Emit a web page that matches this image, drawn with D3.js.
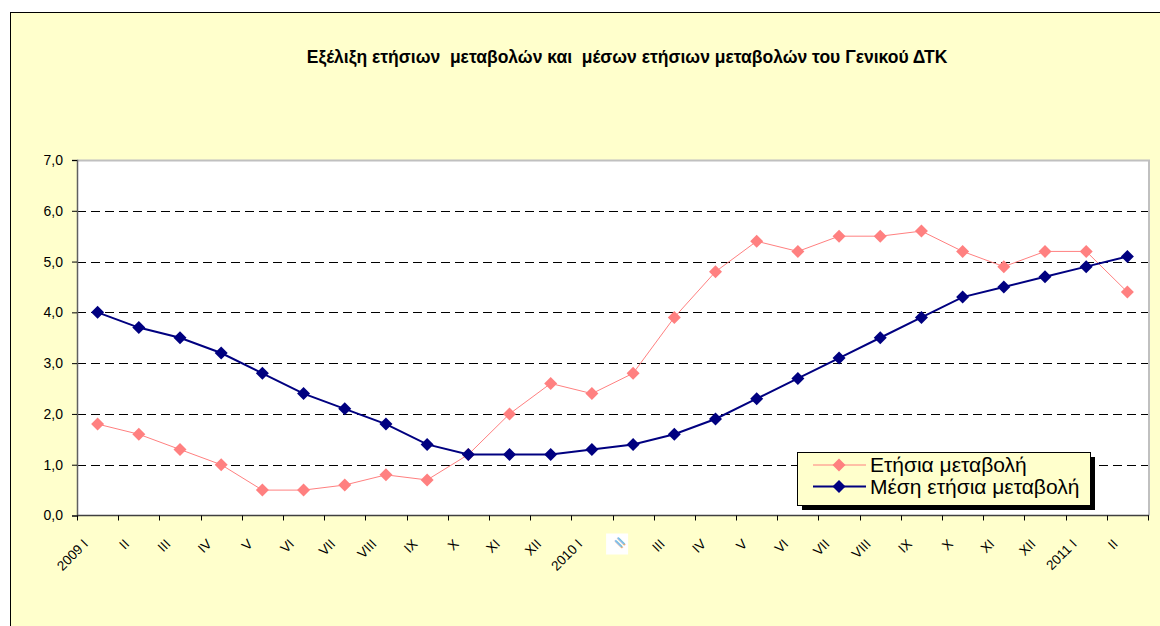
<!DOCTYPE html>
<html>
<head>
<meta charset="utf-8">
<script src="https://cdn.jsdelivr.net/npm/d3@7"></script>
<style>
  body { margin: 0; background: #ffffff; }
  svg { display: block; font-family: Arial, "Liberation Sans", sans-serif; }
</style>
</head>
<body>
<div id="chart"></div>
<script>
// categories (months)
const months = ['2009 I', 'II', 'III', 'IV', 'V', 'VI', 'VII', 'VIII', 'IX', 'X', 'XI', 'XII',
    '2010 I', 'II', 'III', 'IV', 'V', 'VI', 'VII', 'VIII', 'IX', 'X', 'XI', 'XII',
    '2011 I', 'II'];
// Ετήσια μεταβολή
const annualChange = [1.8, 1.6, 1.3, 1.0, 0.5, 0.5, 0.6, 0.8, 0.7, 1.2, 2.0, 2.6,
    2.4, 2.8, 3.9, 4.8, 5.4, 5.2, 5.5, 5.5, 5.6, 5.2, 4.9, 5.2, 5.2, 4.4];
// Μέση ετήσια μεταβολή
const avgAnnualChange = [4.0, 3.7, 3.5, 3.2, 2.8, 2.4, 2.1, 1.8, 1.4, 1.2, 1.2, 1.2,
    1.3, 1.4, 1.6, 1.9, 2.3, 2.7, 3.1, 3.5, 3.9, 4.3, 4.5, 4.7, 4.9, 5.1];
const yTicks = [0, 1, 2, 3, 4, 5, 6, 7];

const seriesList = [
    { name: 'Ετήσια μεταβολή', values: annualChange, color: '#ff8080', width: 1 },
    { name: 'Μέση ετήσια μεταβολή', values: avgAnnualChange, color: '#000080', width: 2 }
];

const W = 1160, H = 626;
const plot = { left: 77, top: 160, right: 1148, bottom: 515.5 };

const svg = d3.select('#chart').append('svg')
    .attr('width', W)
    .attr('height', H);

// chart area background + border
svg.append('rect')
    .attr('x', 10.5).attr('y', 12.5)
    .attr('width', W).attr('height', H)
    .attr('fill', '#ffffcc')
    .attr('stroke', '#000').attr('stroke-width', 1);

// title
svg.append('text')
    .attr('x', 627).attr('y', 63)
    .attr('text-anchor', 'middle')
    .attr('font-size', 17.5)
    .attr('font-weight', 'bold')
    .attr('fill', '#000')
    .style('white-space', 'pre')
    .text('Εξέλιξη ετήσιων  μεταβολών και  μέσων ετήσιων μεταβολών του Γενικού ΔΤΚ');

const x = d3.scaleBand()
    .domain(d3.range(months.length))
    .range([plot.left, plot.right]);

const y = d3.scaleLinear()
    .domain([0, 7])
    .range([plot.bottom, plot.top]);

// plot area
svg.append('rect')
    .attr('x', plot.left).attr('y', plot.top)
    .attr('width', plot.right - plot.left).attr('height', plot.bottom - plot.top)
    .attr('fill', '#ffffff');
svg.append('path')
    .attr('d', `M${plot.left},${plot.top + 0.5}H${plot.right + 1}V${plot.bottom}`)
    .attr('fill', 'none')
    .attr('stroke', '#c0c0c0')
    .attr('stroke-width', 2);

// dashed grid lines
svg.append('g')
    .selectAll('line')
    .data(yTicks.filter(t => t > 0 && t < 7))
    .enter().append('line')
    .attr('x1', plot.left).attr('x2', plot.right)
    .attr('y1', d => Math.round(y(d)) + 0.5)
    .attr('y2', d => Math.round(y(d)) + 0.5)
    .attr('stroke', '#000')
    .attr('stroke-dasharray', '9,5');

// y axis
const yAxis = d3.axisLeft(y)
    .tickValues(yTicks)
    .tickSize(5)
    .tickPadding(9)
    .tickFormat(d => d3.format('.1f')(d).replace('.', ','));

const gy = svg.append('g')
    .attr('transform', `translate(${plot.left},0)`)
    .call(yAxis);
gy.select('.domain').attr('stroke', '#606060').attr('stroke-width', 1.5);
gy.selectAll('.tick line').attr('stroke', '#000');
gy.selectAll('.tick text')
    .attr('font-size', 14)
    .attr('font-family', 'Arial, "Liberation Sans", sans-serif')
    .attr('fill', '#000');

// x axis: ticks between categories
const boundaries = d3.range(months.length + 1).map(i => plot.left + i * x.bandwidth());
svg.append('line')
    .attr('x1', plot.left).attr('x2', plot.right + 1)
    .attr('y1', plot.bottom).attr('y2', plot.bottom)
    .attr('stroke', '#404040').attr('stroke-width', 1.5);
svg.append('g')
    .selectAll('line')
    .data(boundaries)
    .enter().append('line')
    .attr('x1', d => Math.round(d) + 0.5).attr('x2', d => Math.round(d) + 0.5)
    .attr('y1', plot.bottom).attr('y2', plot.bottom + 5)
    .attr('stroke', '#000');

// x labels (rotated -45)
const xLabels = svg.append('g');
months.forEach((m, i) => {
    const cx = x(i) + x.bandwidth() / 2;
    if (i === 13) {
        // the original shows this label as a small blurred picture
        xLabels.append('rect')
            .attr('x', cx - 27).attr('y', plot.bottom + 18)
            .attr('width', 22).attr('height', 21)
            .attr('fill', '#ffffff');
        xLabels.append('text')
            .attr('transform', `translate(${cx - 10},${plot.bottom + 25}) rotate(-45)`)
            .attr('text-anchor', 'end')
            .attr('dy', '0.35em')
            .attr('font-size', 13.5)
            .attr('font-weight', 'bold')
            .attr('fill', '#f5b070')
            .text(m);
        xLabels.append('text')
            .attr('transform', `translate(${cx - 11},${plot.bottom + 24}) rotate(-45)`)
            .attr('text-anchor', 'end')
            .attr('dy', '0.35em')
            .attr('font-size', 13.5)
            .attr('font-weight', 'bold')
            .attr('fill', '#7ec0ea')
            .text(m);
    } else {
        xLabels.append('text')
            .attr('transform', `translate(${cx - 12},${plot.bottom + 26}) rotate(-45)`)
            .attr('text-anchor', 'end')
            .attr('dy', '0.35em')
            .attr('font-size', 13.5)
            .attr('fill', '#000')
            .text(m);
    }
});

// lines and markers
const diamond = 'M0,-6.5L6.5,0L0,6.5L-6.5,0Z';
const line = d3.line()
    .x((d, i) => x(i) + x.bandwidth() / 2)
    .y(d => y(d));

seriesList.forEach(s => {
    svg.append('path')
        .datum(s.values)
        .attr('d', line)
        .attr('fill', 'none')
        .attr('stroke', s.color)
        .attr('stroke-width', s.width);
    svg.append('g')
        .selectAll('path')
        .data(s.values)
        .enter().append('path')
        .attr('d', diamond)
        .attr('transform', (d, i) => `translate(${x(i) + x.bandwidth() / 2},${y(d)})`)
        .attr('fill', s.color);
});

// legend
const lg = svg.append('g').attr('transform', 'translate(797,452)');
lg.append('rect')
    .attr('x', 5).attr('y', 5)
    .attr('width', 293).attr('height', 53)
    .attr('fill', '#000');
lg.append('rect')
    .attr('x', 0.5).attr('y', 0.5)
    .attr('width', 293).attr('height', 53)
    .attr('fill', '#ffffcc')
    .attr('stroke', '#000');

seriesList.forEach((s, i) => {
    const row = lg.append('g').attr('transform', `translate(0,${13 + i * 21.5})`);
    row.append('line')
        .attr('x1', 16).attr('x2', 69)
        .attr('stroke', s.color)
        .attr('stroke-width', s.width);
    row.append('path')
        .attr('d', diamond)
        .attr('transform', 'translate(42,0)')
        .attr('fill', s.color);
    row.append('text')
        .attr('x', 73).attr('y', 7)
        .attr('font-size', 21)
        .attr('fill', '#000')
        .text(s.name);
});
</script>
</body>
</html>
